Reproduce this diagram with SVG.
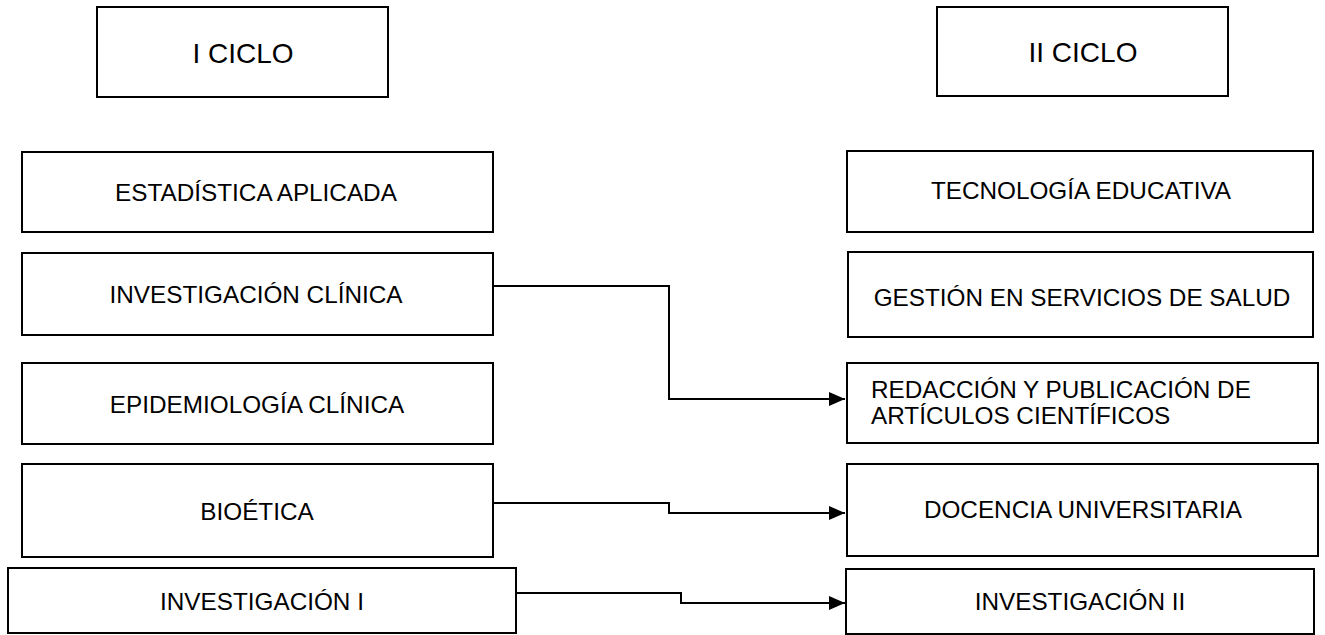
<svg xmlns="http://www.w3.org/2000/svg" width="1325" height="635" viewBox="0 0 1325 635">
<style>
.box{fill:#fff;stroke:#000;stroke-width:2}
.t{font-family:"Liberation Sans",Arial,sans-serif;font-size:24.3px;fill:#000;text-anchor:middle}
.h{font-size:28px}
.l{text-anchor:start}
.c{fill:none;stroke:#000;stroke-width:2}
</style>
<defs>
<marker id="arr" markerWidth="16" markerHeight="14" refX="16" refY="7" orient="auto" markerUnits="userSpaceOnUse">
<path d="M0,0 L16,7 L0,14 Z" fill="#000"/>
</marker>
</defs>
<rect width="1325" height="635" fill="#fff"/>
<g id="n-ciclo1"><rect class="box" x="97" y="7" width="291" height="90"/><text class="t h" x="243" y="63">I CICLO</text></g>
<g id="n-ciclo2"><rect class="box" x="937" y="7" width="291" height="89"/><text class="t h" x="1083" y="62">II CICLO</text></g>
<g id="n-estadistica"><rect class="box" x="22" y="152" width="471" height="80"/><text class="t" x="256" y="201">ESTADÍSTICA APLICADA</text></g>
<g id="n-invclinica"><rect class="box" x="22" y="253" width="471" height="82"/><text class="t" x="256" y="303">INVESTIGACIÓN CLÍNICA</text></g>
<g id="n-epidemiologia"><rect class="box" x="22" y="363" width="471" height="81"/><text class="t" x="257" y="413">EPIDEMIOLOGÍA CLÍNICA</text></g>
<g id="n-bioetica"><rect class="box" x="22" y="464" width="471" height="93"/><text class="t" x="257" y="520">BIOÉTICA</text></g>
<g id="n-inv1"><rect class="box" x="8" y="568" width="508" height="65"/><text class="t" x="262" y="610">INVESTIGACIÓN I</text></g>
<g id="n-tecnologia"><rect class="box" x="847" y="151" width="466" height="81"/><text class="t" x="1081" y="199">TECNOLOGÍA EDUCATIVA</text></g>
<g id="n-gestion"><rect class="box" x="848" y="252" width="465" height="85"/><text class="t" x="1082" y="306">GESTIÓN EN SERVICIOS DE SALUD</text></g>
<g id="n-redaccion"><rect class="box" x="847" y="363" width="471" height="80"/><text class="t l" x="871" y="398">REDACCIÓN Y PUBLICACIÓN DE</text><text class="t l" x="871" y="424">ARTÍCULOS CIENTÍFICOS</text></g>
<g id="n-docencia"><rect class="box" x="847" y="464" width="471" height="92"/><text class="t" x="1083" y="518">DOCENCIA UNIVERSITARIA</text></g>
<g id="n-inv2"><rect class="box" x="846" y="569" width="468" height="65"/><text class="t" x="1080" y="610">INVESTIGACIÓN II</text></g>
<g id="connectors">
<path class="c" d="M493,286 H669 V399 H845" marker-end="url(#arr)"/>
<path class="c" d="M493,503 H669 V513 H845" marker-end="url(#arr)"/>
<path class="c" d="M516,593 H681 V603 H845" marker-end="url(#arr)"/>
</g>
</svg>
